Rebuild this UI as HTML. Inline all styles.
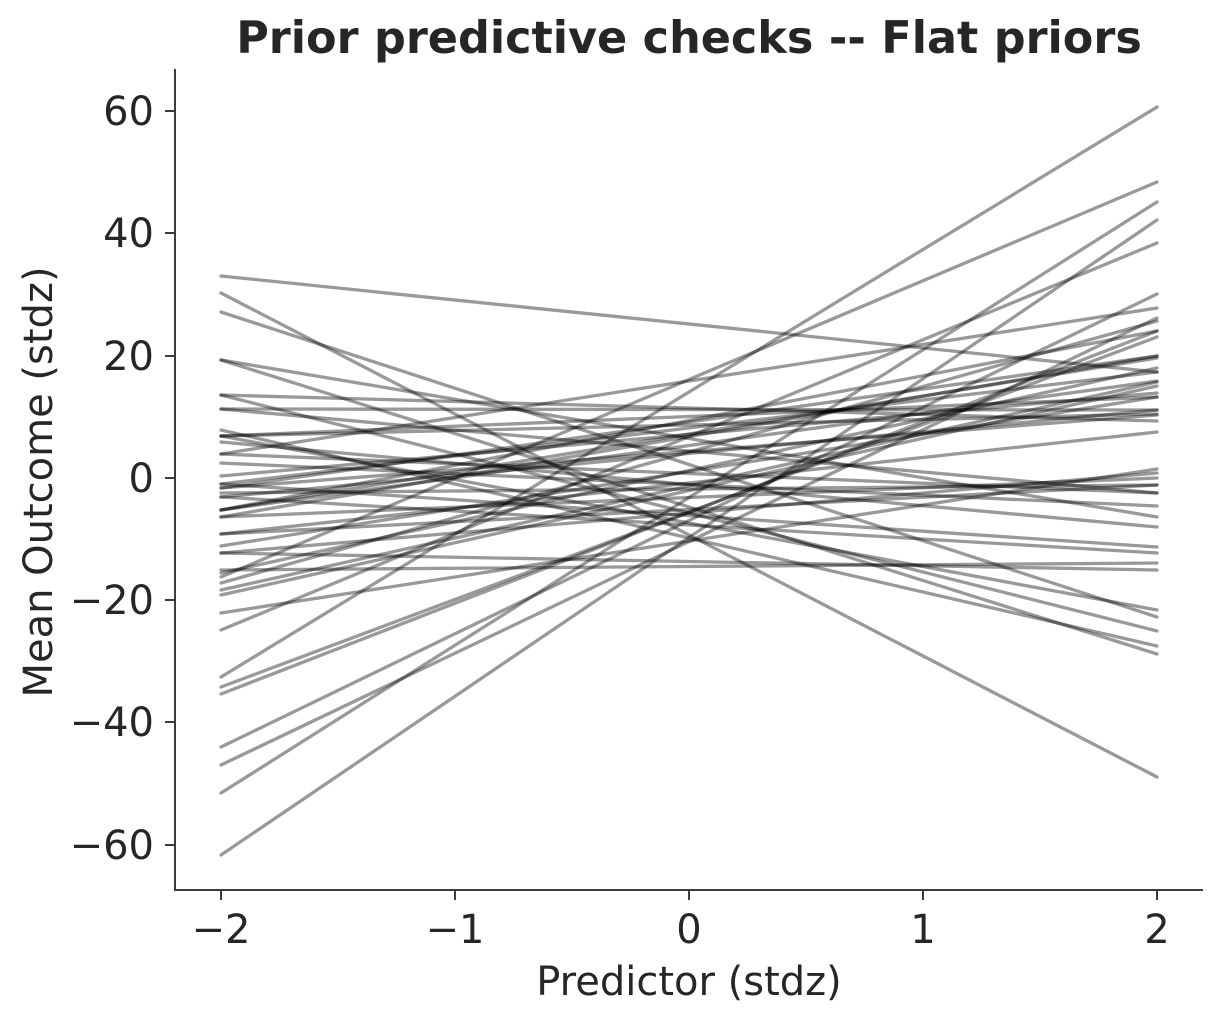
<!DOCTYPE html>
<html>
<head>
<meta charset="utf-8">
<style>
html,body{margin:0;padding:0;background:#fff;}
svg{display:block;}
text{font-family:"DejaVu Sans","Liberation Sans",sans-serif;fill:#262626;}
</style>
</head>
<body>
<svg width="1223" height="1023" viewBox="0 0 1223 1023" xmlns="http://www.w3.org/2000/svg">
<rect width="1223" height="1023" fill="#fff"/>
<g stroke="#000" stroke-opacity="0.4" stroke-width="3.3" stroke-linecap="round" fill="none">
<line x1="221" y1="276" x2="1157" y2="372"/>
<line x1="221" y1="293" x2="1157" y2="777"/>
<line x1="221" y1="312" x2="1157" y2="617"/>
<line x1="221" y1="360" x2="1157" y2="517"/>
<line x1="221" y1="360" x2="1157" y2="654"/>
<line x1="221" y1="395" x2="1157" y2="421"/>
<line x1="221" y1="395" x2="1157" y2="631"/>
<line x1="221" y1="409" x2="1157" y2="493"/>
<line x1="221" y1="430" x2="1157" y2="646"/>
<line x1="221" y1="436" x2="1157" y2="610"/>
<line x1="221" y1="436" x2="1157" y2="414"/>
<line x1="221" y1="442" x2="1157" y2="527"/>
<line x1="221" y1="454" x2="1157" y2="308"/>
<line x1="221" y1="463" x2="1157" y2="506"/>
<line x1="221" y1="476" x2="1157" y2="393"/>
<line x1="221" y1="484" x2="1157" y2="547"/>
<line x1="221" y1="488" x2="1157" y2="356"/>
<line x1="221" y1="493" x2="1157" y2="485"/>
<line x1="221" y1="497" x2="1157" y2="553"/>
<line x1="221" y1="510" x2="1157" y2="381"/>
<line x1="221" y1="510" x2="1157" y2="358"/>
<line x1="221" y1="517" x2="1157" y2="478"/>
<line x1="221" y1="534" x2="1157" y2="432"/>
<line x1="221" y1="546" x2="1157" y2="397"/>
<line x1="221" y1="553" x2="1157" y2="473"/>
<line x1="221" y1="570" x2="1157" y2="563"/>
<line x1="221" y1="573" x2="1157" y2="368"/>
<line x1="221" y1="577" x2="1157" y2="182"/>
<line x1="221" y1="583" x2="1157" y2="321"/>
<line x1="221" y1="590" x2="1157" y2="382"/>
<line x1="221" y1="595" x2="1157" y2="386"/>
<line x1="221" y1="613" x2="1157" y2="469"/>
<line x1="221" y1="630" x2="1157" y2="243"/>
<line x1="221" y1="677" x2="1157" y2="107"/>
<line x1="221" y1="687" x2="1157" y2="337"/>
<line x1="221" y1="694" x2="1157" y2="331"/>
<line x1="221" y1="747" x2="1157" y2="294"/>
<line x1="221" y1="765" x2="1157" y2="318"/>
<line x1="221" y1="793" x2="1157" y2="202"/>
<line x1="221" y1="855" x2="1157" y2="220"/>
<line x1="221" y1="553" x2="1157" y2="570"/>
<line x1="221" y1="436" x2="1157" y2="397"/>
<line x1="221" y1="484" x2="1157" y2="372"/>
<line x1="221" y1="510" x2="1157" y2="331"/>
<line x1="221" y1="454" x2="1157" y2="493"/>
<line x1="221" y1="488" x2="1157" y2="415"/>
<line x1="221" y1="409" x2="1157" y2="410"/>
<line x1="221" y1="517" x2="1157" y2="356"/>
<line x1="221" y1="534" x2="1157" y2="485"/>
<line x1="221" y1="497" x2="1157" y2="410"/>
</g>
<g stroke="#3c3c3c" stroke-width="2" fill="none">
<line x1="175" y1="69" x2="175" y2="891"/>
<line x1="174" y1="890" x2="1203" y2="890"/>
<line x1="165" y1="111" x2="175" y2="111"/>
<line x1="165" y1="233" x2="175" y2="233"/>
<line x1="165" y1="356" x2="175" y2="356"/>
<line x1="165" y1="478" x2="175" y2="478"/>
<line x1="165" y1="600" x2="175" y2="600"/>
<line x1="165" y1="722" x2="175" y2="722"/>
<line x1="165" y1="845" x2="175" y2="845"/>
<line x1="221" y1="890" x2="221" y2="900"/>
<line x1="455" y1="890" x2="455" y2="900"/>
<line x1="689" y1="890" x2="689" y2="900"/>
<line x1="923" y1="890" x2="923" y2="900"/>
<line x1="1157" y1="890" x2="1157" y2="900"/>
</g>
<g font-size="40" text-anchor="end">
<text x="154" y="125">60</text>
<text x="154" y="247">40</text>
<text x="154" y="370">20</text>
<text x="154" y="492">0</text>
<text x="154" y="614">−20</text>
<text x="154" y="736">−40</text>
<text x="154" y="859">−60</text>
</g>
<g font-size="40" text-anchor="middle">
<text x="221" y="943">−2</text>
<text x="455" y="943">−1</text>
<text x="689" y="943">0</text>
<text x="923" y="943">1</text>
<text x="1157" y="943">2</text>
</g>
<text x="689" y="995" font-size="40" text-anchor="middle">Predictor (stdz)</text>
<text transform="translate(52,482) rotate(-90)" font-size="40" text-anchor="middle">Mean Outcome (stdz)</text>
<text x="689" y="53" font-size="44.5" font-weight="bold" text-anchor="middle">Prior predictive checks -- Flat priors</text>
</svg>
</body>
</html>
